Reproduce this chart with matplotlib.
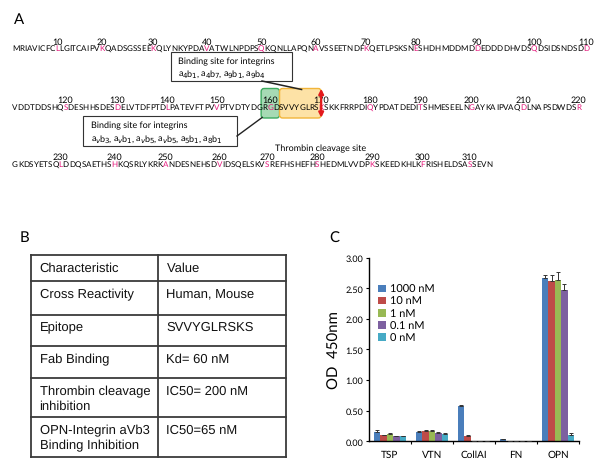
import matplotlib
matplotlib.use('Agg')
import matplotlib.pyplot as plt
import numpy as np
from matplotlib.patches import FancyBboxPatch, Rectangle, FancyArrowPatch
from matplotlib.font_manager import FontProperties, findfont, get_font
from matplotlib.ticker import FixedLocator

plt.rcParams['text.hinting'] = 'no_hinting'
plt.rcParams['text.hinting_factor'] = 1

# ---------------- data ----------------
seq_line1 = "MRIAVICFCLLGITCAIPVKQADSGSSEEKQLYNKYPDAVATWLNPDPSQKQNLLAPQNAVSSEETNDFKQETLPSKSNESHDHMDDMDDEDDDDHVDSQDSIDSNDSDD"
seq_line2 = "VDDTDDSHQSDESHHSDESDELVTDFPTDLPATEVFTPVVPTVDTYDGRGDSVVYGLRSKSKKFRRPDIQYPDATDEDITSHMESEELNGAYKAIPVAQDLNAPSDWDSR"
seq_line3 = "GKDSYETSQLDDQSAETHSHKQSRLYKRKANDESNEHSDVIDSQELSKVSREFHSHEFHSHEDMLVVDPKSKEEDKHLKFRISHELDSASSEVN"
seq_lines = [seq_line1, seq_line2, seq_line3]
line_first_residue = [1, 111, 221]
green_site = (159, 161)     # RGD
yellow_site = (162, 169)    # SVVYGLRS
cleavage_residue = 170

callout_top_title = "Binding site for integrins"
callout_top_text = r"a$_4$b$_1$, a$_4$b$_7$, a$_9$b$_1$, a$_9$b$_4$"
callout_bot_title = "Binding site for integrins"
callout_bot_text = r"a$_v$b$_3$, a$_v$b$_1$, a$_v$b$_5$, a$_v$b$_5$, a$_5$b$_1$, a$_8$b$_1$"
cleavage_label = "Thrombin cleavage site"

table_rows = [
    ["Characteristic", "Value"],
    ["Cross Reactivity", "Human, Mouse"],
    ["Epitope", "SVVYGLRSKS"],
    ["Fab Binding", "Kd= 60 nM"],
    ["Thrombin cleavage\ninhibition", "IC50= 200 nM"],
    ["OPN-Integrin aVb3\nBinding Inhibition", "IC50=65 nM"],
]

categories = ['TSP', 'VTN', 'CollAI', 'FN', 'OPN']
conc_labels = ['1000 nM', '10 nM', '1 nM', '0.1 nM', '0 nM']
vals_1000 = [0.15, 0.15, 0.58, 0.04, 2.66]
vals_10   = [0.10, 0.17, 0.09, 0.01, 2.61]
vals_1    = [0.12, 0.17, 0.01, 0.01, 2.64]
vals_01   = [0.08, 0.14, 0.005, 0.006, 2.47]
vals_0    = [0.08, 0.12, 0.005, 0.005, 0.10]
err_1000 = [0.03, 0.01, 0.02, 0.005, 0.05]
err_10   = [0.01, 0.01, 0.01, 0.003, 0.11]
err_1    = [0.01, 0.01, 0.003, 0.003, 0.12]
err_01   = [0.01, 0.01, 0.003, 0.003, 0.09]
err_0    = [0.01, 0.01, 0.003, 0.003, 0.03]
series_vals = [vals_1000, vals_10, vals_1, vals_01, vals_0]
series_errs = [err_1000, err_10, err_1, err_01, err_0]
bar_colors = ['#4a7ebb', '#be4b48', '#98b954', '#7d60a0', '#46aac5']

# ---------------- figure ----------------
W, H = 600, 477
DPI = 100
fig = plt.figure(figsize=(6.0, 4.77), dpi=DPI)
ax0 = fig.add_axes([0, 0, 1, 1])
ax0.set_xlim(0, W)
ax0.set_ylim(H, 0)
ax0.axis('off')
ax0.set_zorder(0)

PINK = '#e5177b'
SEQFONT = 'Lato'

# unhinted glyph layout (pen positions incl. kerning), in pixels
fnt = get_font(findfont(FontProperties(family=SEQFONT)))
try:
    from matplotlib._text_helpers import layout as _mpl_layout
except Exception:
    _mpl_layout = None

def pen_positions(s, fs):
    fnt.set_size(fs, DPI)
    xs, advs = [], []
    if _mpl_layout is not None:
        try:
            for it in _mpl_layout(s, fnt):
                xs.append(it.x)
                g = fnt.load_char(ord(it.char))
                advs.append(g.linearHoriAdvance / 65536.0)
            return xs, advs
        except Exception:
            xs, advs = [], []
    x = 0.0
    for c in s:
        g = fnt.load_char(ord(c))
        a = g.linearHoriAdvance / 65536.0
        xs.append(x)
        advs.append(a)
        x += a
    return xs, advs

x_left = 12.0
line1_width = 584.0
xs, advs = pen_positions(seq_line1, 10.0)
seq_fs = 10.0 * line1_width / (xs[-1] + advs[-1])

num_base = [44.5, 102.5, 159.5]
seq_base = [51.0, 109.5, 167.0]

res_x = {}
for li, line in enumerate(seq_lines):
    first = line_first_residue[li]
    xs, advs = pen_positions(line, seq_fs)
    for k, c in enumerate(line):
        r = first + k
        res_x[r] = (x_left + xs[k] + advs[k] / 2, advs[k], li)
        pink = (r % 10 == 0)
        ax0.text(x_left + xs[k], seq_base[li], c, ha='left', va='baseline',
                 fontsize=seq_fs, family=SEQFONT,
                 color=PINK if pink else 'black', zorder=5)
        if pink:
            ax0.text(res_x[r][0], num_base[li], str(r), ha='center', va='baseline',
                     fontsize=seq_fs * 1.1, family=SEQFONT, color='black', zorder=5)

# boxes on line 2
def left_edge(r):
    xc, w, _ = res_x[r]
    return xc - w / 2
def right_edge(r):
    xc, w, _ = res_x[r]
    return xc + w / 2

box_top, box_bot = 89.5, 119
gx0 = left_edge(green_site[0]) - 1.0
gx1 = right_edge(green_site[1]) + 0.5
green = FancyBboxPatch((gx0, box_top), gx1 - gx0, box_bot - box_top,
                       boxstyle='round,pad=0,rounding_size=3',
                       fc='#a6dab4', ec='#3daa5f', lw=1.0, zorder=2)
ax0.add_patch(green)
yx0 = gx1
yx1 = res_x[cleavage_residue][0]
yellow = FancyBboxPatch((yx0, box_top), yx1 - yx0, box_bot - box_top,
                        boxstyle='round,pad=0,rounding_size=3',
                        fc='#fde2a6', ec='#f2b53a', lw=1.0, zorder=2)
ax0.add_patch(yellow)
arr = FancyArrowPatch((yx1, 87), (yx1, 121.5), arrowstyle='<|-|>',
                      mutation_scale=7, color='#e3191c', lw=1.6, zorder=7)
ax0.add_patch(arr)

# callouts
CF = 6.8
ax0.add_patch(Rectangle((171, 53), 121, 29, fc='white', ec='#333333', lw=0.8, zorder=3))
ax0.text(178, 62, callout_top_title, fontsize=CF, family=SEQFONT, va='center', zorder=4)
ax0.text(178, 75, callout_top_text, fontsize=CF, family=SEQFONT, va='center', zorder=4)
ax0.plot([262, yx0 + 22], [82, box_top + 1], color='#222222', lw=1.1, zorder=3)

ax0.add_patch(Rectangle((83, 117), 154, 30, fc='white', ec='#333333', lw=0.8, zorder=3))
ax0.text(91, 126, callout_bot_title, fontsize=CF, family=SEQFONT, va='center', zorder=4)
ax0.text(91, 140, callout_bot_text, fontsize=CF, family=SEQFONT, va='center', zorder=4)
ax0.plot([237, gx0 + 1], [137, box_bot - 0.5], color='#222222', lw=1.0, zorder=3)

ax0.text(321, 148.5, cleavage_label, fontsize=CF, family=SEQFONT, ha='center', va='center', zorder=4)

# panel letters
ax0.text(19, 20, 'A', fontsize=11, family=SEQFONT, ha='center', va='center')
ax0.text(24, 238, 'B', fontsize=11, family=SEQFONT, ha='center', va='center')
ax0.text(334.5, 238.5, 'C', fontsize=11, family=SEQFONT, ha='center', va='center')

# ---------------- table (B) ----------------
row_edges = [256, 282, 315.5, 347, 379, 418, 458]
col_edges = [31, 158, 286]
TCOL = '#3a3a3a'
for y in row_edges:
    ax0.plot([col_edges[0], col_edges[-1]], [y, y], color=TCOL, lw=1.3, zorder=3,
             solid_capstyle='projecting')
for x in col_edges:
    ax0.plot([x, x], [row_edges[0], row_edges[-1]], color=TCOL, lw=1.3, zorder=3,
             solid_capstyle='projecting')
for ri, row in enumerate(table_rows):
    ytop = row_edges[ri]
    for ci, cell in enumerate(row):
        for k, ln in enumerate(cell.split('\n')):
            ax0.text(col_edges[ci] + 8.5, ytop + 12.5 + 15 * k, ln, fontsize=9.2,
                     family='Liberation Sans', va='center', ha='left',
                     color='#111111', zorder=4)

# ---------------- bar chart (C) ----------------
ax_l, ax_r = 369, 579
y0_px, y3_px = 442.3, 258.5
ax1 = fig.add_axes([ax_l / W, 1 - y0_px / H, (ax_r - ax_l) / W, (y0_px - y3_px) / H])
ax1.set_zorder(2)
ax1.patch.set_alpha(0)
x = np.arange(len(categories))
bw = 0.152
handles = []
for j, (vals, errs) in enumerate(zip(series_vals, series_errs)):
    pos = x + (j - 2) * bw
    b = ax1.bar(pos, vals, width=bw, color=bar_colors[j], label=conc_labels[j], zorder=2)
    ax1.errorbar(pos, vals, yerr=[np.zeros(len(errs)), errs], fmt='none',
                 ecolor='#333333', elinewidth=0.7, capsize=1.5, capthick=0.7, zorder=3)
    handles.append(b)
ax1.set_xlim(-0.5, 4.5)
ax1.set_ylim(0, 3.0)
yt = np.arange(0, 3.01, 0.5)
ax1.set_yticks(yt)
ax1.set_yticklabels([f"{v:.2f}" for v in yt], fontsize=6.5, family=SEQFONT)
ax1.set_xticks(x)
ax1.set_xticklabels(categories, fontsize=7.2, family=SEQFONT)
ax1.xaxis.set_minor_locator(FixedLocator([0.5, 1.5, 2.5, 3.5, 4.5]))
ax1.tick_params(axis='x', which='major', length=0, pad=6)
ax1.tick_params(axis='x', which='minor', length=2.5, width=0.8, direction='out')
ax1.tick_params(axis='y', which='major', length=2.5, width=0.8, direction='out', pad=1.5)
for s in ['top', 'right']:
    ax1.spines[s].set_visible(False)
for s in ['left', 'bottom']:
    ax1.spines[s].set_color('black')
    ax1.spines[s].set_linewidth(1.0)
ax1.set_ylabel('OD  450nm', fontsize=11, family=SEQFONT, labelpad=3)
leg = ax1.legend(handles=handles, loc='upper left',
                 bbox_to_anchor=(378 / W, 1 - 285 / H), bbox_transform=fig.transFigure,
                 frameon=False, prop={'family': SEQFONT, 'size': 7.6},
                 handlelength=0.75, handleheight=0.75, handletextpad=0.35,
                 labelspacing=0.2, borderpad=0, borderaxespad=0)

fig.savefig('out.png', dpi=DPI)
